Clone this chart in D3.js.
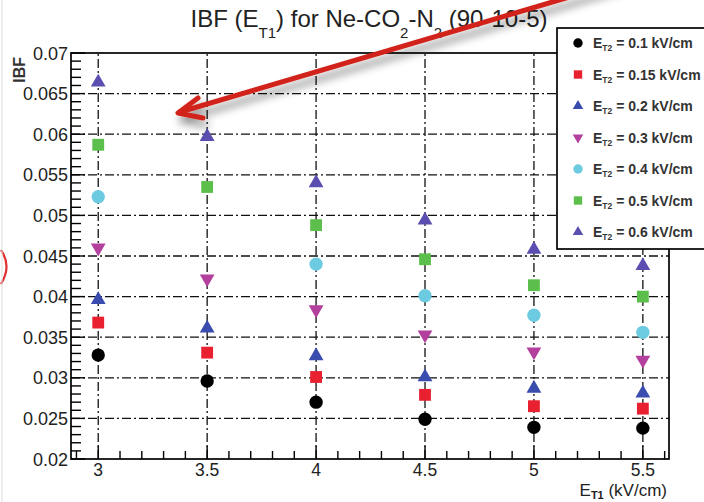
<!DOCTYPE html>
<html>
<head>
<meta charset="utf-8">
<style>
  body { margin: 0; background: #fff; }
  svg { display: block; font-family: "Liberation Sans", Arial, sans-serif; }
</style>
</head>
<body>
<svg id="graph" width="704" height="502"></svg>

<script src="https://d3js.org/d3.v7.min.js"></script>
<script>
// E_T1 values (kV/cm)
var eT1 = [3, 3.5, 4, 4.5, 5, 5.5];

// one series per E_T2 setting, IBF (null = no point)
var seriesNames = ["0.1", "0.15", "0.2", "0.3", "0.4", "0.5", "0.6"];
var ibf01  = [0.0328, 0.0296, 0.0270, 0.0249, 0.0239, 0.0238];
var ibf015 = [0.0368, 0.0331, 0.0301, 0.0279, 0.0265, 0.0262];
var ibf02  = [0.0396, 0.0361, 0.0327, 0.0301, 0.0287, 0.0281];
var ibf03  = [0.0460, 0.0422, 0.0384, 0.0353, 0.0332, 0.0322];
var ibf04  = [0.0523, null,   0.0440, 0.0401, 0.0377, 0.0356];
var ibf05  = [0.0587, 0.0535, 0.0488, 0.0446, 0.0414, 0.0400];
var ibf06  = [0.0664, 0.0597, 0.0540, 0.0494, 0.0458, 0.0438];

var yTicks = [0.02, 0.025, 0.03, 0.035, 0.04, 0.045, 0.05, 0.055, 0.06, 0.065, 0.07];
var yTickLabels = ["0.02", "0.025", "0.03", "0.035", "0.04", "0.045", "0.05", "0.055", "0.06", "0.065", "0.07"];
var xTicks = [3, 3.5, 4, 4.5, 5, 5.5];
var xTickLabels = ["3", "3.5", "4", "4.5", "5", "5.5"];

var allSeries = [ibf01, ibf015, ibf02, ibf03, ibf04, ibf05, ibf06];

// marker style per series (ROOT-like)
var styles = [
  {sym: d3.symbolCircle,   color: "#000000", size: 140, flip: false},
  {sym: d3.symbolSquare,   color: "#e8202f", size: 140, flip: false},
  {sym: d3.symbolTriangle, color: "#3a4cae", size: 95,  flip: false},
  {sym: d3.symbolTriangle, color: "#b4409e", size: 95,  flip: true},
  {sym: d3.symbolCircle,   color: "#6ccbe0", size: 140, flip: false},
  {sym: d3.symbolSquare,   color: "#5cbf4c", size: 140, flip: false},
  {sym: d3.symbolTriangle, color: "#5a4fb0", size: 95,  flip: false}
];

var svg = d3.select("svg");

var defs = svg.append("defs");
var shadow = defs.append("filter").attr("id", "shadow")
    .attr("x", "-20%").attr("y", "-50%").attr("width", "140%").attr("height", "200%");
shadow.append("feDropShadow")
    .attr("dx", 3).attr("dy", 7).attr("stdDeviation", 4)
    .attr("flood-color", "#000").attr("flood-opacity", 0.45);

var x = d3.scaleLinear()
    .domain([2.875, 5.62])
    .range([71, 669]);

var y = d3.scaleLinear()
    .domain([0.02, 0.07])
    .range([459, 53]);

// minor ticks
var xMinor = d3.range(29, 57).map(function (d) { return d / 10; });
var yMinor = d3.range(20, 71).map(function (d) { return d / 1000; });

var g = svg.append("g");

// grid, dash-dot
g.selectAll(".vgrid").data(xTicks).enter().append("line")
    .attr("x1", function (d) { return x(d); })
    .attr("x2", function (d) { return x(d); })
    .attr("y1", y(0.02)).attr("y2", y(0.07))
    .attr("stroke", "#111").attr("stroke-width", 1.3)
    .attr("stroke-dasharray", "9,3,2,3");

g.selectAll(".hgrid").data(yTicks.slice(1, -1)).enter().append("line")
    .attr("x1", x.range()[0]).attr("x2", x.range()[1])
    .attr("y1", function (d) { return y(d); })
    .attr("y2", function (d) { return y(d); })
    .attr("stroke", "#111").attr("stroke-width", 1.3)
    .attr("stroke-dasharray", "9,3,2,3");

// tick marks
g.selectAll(".xminor").data(xMinor).enter().append("line")
    .attr("x1", function (d) { return x(d); })
    .attr("x2", function (d) { return x(d); })
    .attr("y1", y(0.02))
    .attr("y2", function (d, i) { return y(0.02) - ((i - 1) % 5 == 0 ? 13 : 8); })
    .attr("stroke", "#000").attr("stroke-width", 1.4);

g.selectAll(".yminor").data(yMinor).enter().append("line")
    .attr("y1", function (d) { return y(d); })
    .attr("y2", function (d) { return y(d); })
    .attr("x1", x.range()[0])
    .attr("x2", function (d, i) { return x.range()[0] + (i % 5 == 0 ? 14 : 10); })
    .attr("stroke", "#000").attr("stroke-width", 1.4);

// frame
g.append("rect")
    .attr("x", x.range()[0]).attr("y", y.range()[1])
    .attr("width", x.range()[1] - x.range()[0])
    .attr("height", y.range()[0] - y.range()[1])
    .attr("fill", "none").attr("stroke", "#000").attr("stroke-width", 1.7);

// tick labels
g.selectAll(".ylab").data(yTicks).enter().append("text")
    .attr("x", x.range()[0] - 3)
    .attr("y", function (d) { return y(d) + 6.5; })
    .attr("text-anchor", "end")
    .attr("font-size", 18)
    .attr("fill", "#222")
    .text(function (d, i) { return yTickLabels[i]; });

g.selectAll(".xlab").data(xTicks).enter().append("text")
    .attr("x", function (d) { return x(d); })
    .attr("y", y(0.02) + 17)
    .attr("text-anchor", "middle")
    .attr("font-size", 17.5)
    .attr("fill", "#222")
    .text(function (d, i) { return xTickLabels[i]; });

// axis titles
var xt = svg.append("text")
    .attr("x", x.range()[1] - 2).attr("y", 496)
    .attr("text-anchor", "end")
    .attr("font-size", 17).attr("fill", "#222");
xt.append("tspan").text("E");
xt.append("tspan").attr("font-size", 11).attr("font-weight", "bold").attr("dy", 3).text("T1");
xt.append("tspan").attr("dy", -3).text(" (kV/cm)");

svg.append("text")
    .attr("transform", "translate(25,57) rotate(-90)")
    .attr("text-anchor", "end")
    .attr("font-size", 16).attr("font-weight", "bold").attr("fill", "#333")
    .text("IBF");

// title
var title = svg.append("text")
    .attr("x", 369).attr("y", 27)
    .attr("text-anchor", "middle")
    .attr("font-size", 24).attr("fill", "#222");
title.append("tspan").text("IBF (E");
title.append("tspan").attr("font-size", 15).attr("dy", 11).text("T1");
title.append("tspan").attr("dy", -11).text(") for Ne-CO");
title.append("tspan").attr("font-size", 15).attr("dy", 11).text("2");
title.append("tspan").attr("dy", -11).text("-N");
title.append("tspan").attr("font-size", 15).attr("dy", 11).text("2");
title.append("tspan").attr("dy", -11).text(" (90-10-5)");

// data points
allSeries.forEach(function (vals, s) {
  var st = styles[s];
  var sym = d3.symbol().type(st.sym).size(st.size);
  var pts = eT1.map(function (e, i) { return {x: e, y: vals[i]}; })
      .filter(function (d) { return d.y != null; });
  g.selectAll(".pt" + s).data(pts).enter().append("path")
      .attr("d", sym)
      .attr("fill", st.color)
      .attr("transform", function (d) {
        return "translate(" + x(d.x) + "," + y(d.y) + ")" + (st.flip ? " rotate(180)" : "");
      });
});

// legend
var leg = svg.append("g");
leg.append("rect")
    .attr("x", 557).attr("y", 28).attr("width", 160).attr("height", 221)
    .attr("fill", "#fff").attr("stroke", "#000").attr("stroke-width", 1.7);

seriesNames.forEach(function (name, s) {
  var st = styles[s];
  var ly = 43 + s * 31.5;
  leg.append("path")
      .attr("d", d3.symbol().type(st.sym).size(st.size * 0.5))
      .attr("fill", st.color)
      .attr("transform", "translate(578," + ly + ")" + (st.flip ? " rotate(180)" : ""));
  var t = leg.append("text")
      .attr("x", 593).attr("y", ly + 5)
      .attr("font-size", 14).attr("font-weight", "bold").attr("fill", "#333");
  t.append("tspan").text("E");
  t.append("tspan").attr("font-size", 8.5).attr("dy", 3).text("T2");
  t.append("tspan").attr("dy", -3).text(" =  " + name + " kV/cm");
});

// red annotation arrow pasted on the figure
var arrow = svg.append("g").attr("filter", "url(#shadow)")
    .attr("stroke", "#d2241a").attr("stroke-width", 5)
    .attr("stroke-linecap", "round").attr("stroke-linejoin", "round").attr("fill", "none");
arrow.append("path").attr("d", "M620,-18 L180,112");
arrow.append("path").attr("d", "M198,98 L178,113 L203,118");

// bits of other annotations at the edge
svg.append("path").attr("d", "M1,250 Q12,266 1,284")
    .attr("stroke", "#e03030").attr("stroke-width", 2.2).attr("fill", "none");
svg.append("line").attr("x1", 2).attr("x2", 2).attr("y1", 0).attr("y2", 502)
    .attr("stroke", "#ddd").attr("stroke-width", 1);
</script>
</body>
</html>
